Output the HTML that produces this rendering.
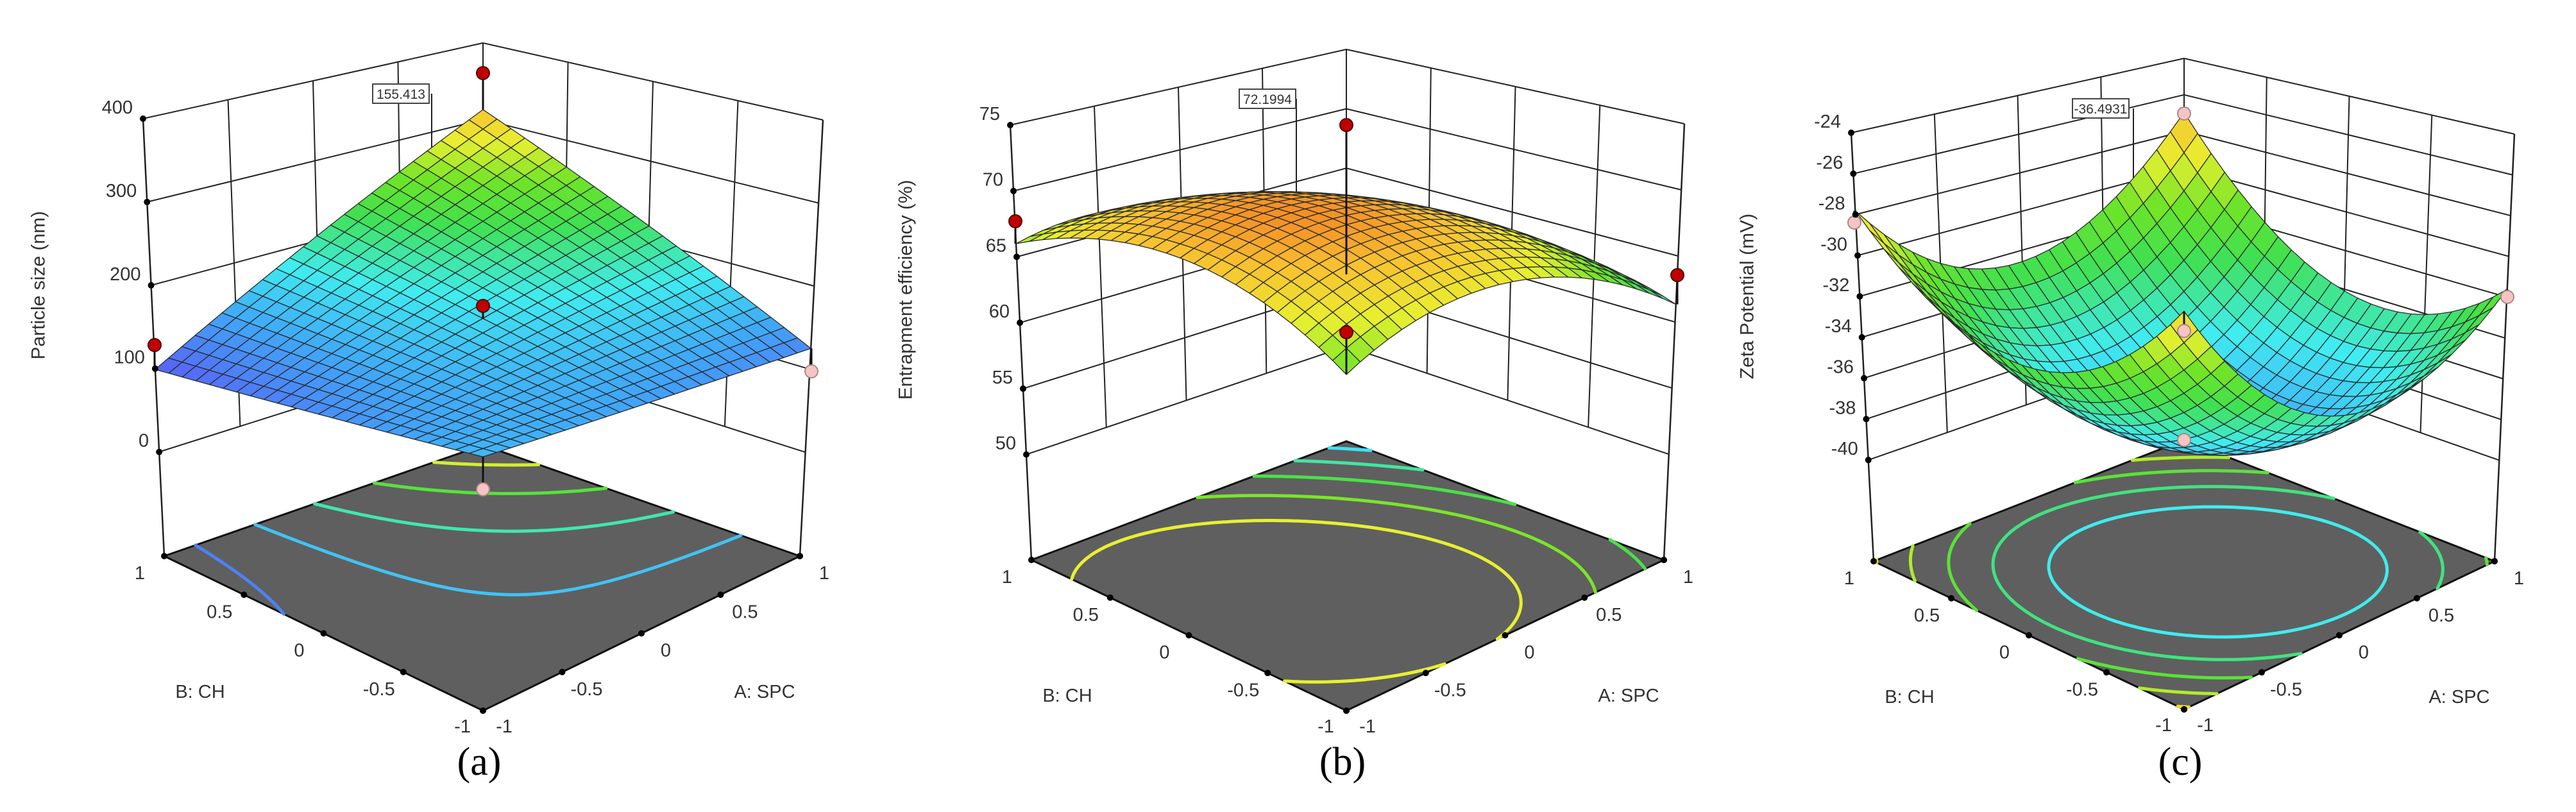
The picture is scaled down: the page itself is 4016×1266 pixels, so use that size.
<!DOCTYPE html>
<html><head><meta charset="utf-8"><style>html,body{margin:0;padding:0;background:#fff}svg{display:block}</style></head>
<body>
<svg id="s" xmlns="http://www.w3.org/2000/svg" width="4016" height="1266" viewBox="0 0 4016 1266" font-family="'Liberation Sans',sans-serif">
<rect width="4016" height="1266" fill="#fff"/>
</svg>
<script>
const S=document.getElementById('s');const NS='http://www.w3.org/2000/svg';
function el(t,a,txt){const e=document.createElementNS(NS,t);for(const k in a)e.setAttribute(k,a[k]);if(txt!==undefined)e.textContent=txt;S.appendChild(e);return e;}
const cm=[[0,[90,90,245]],[0.2,[64,168,248]],[0.35,[64,236,240]],[0.52,[64,224,80]],[0.64,[110,228,40]],[0.76,[232,240,48]],[0.88,[248,192,48]],[1,[240,112,32]]];
function col(t){t=Math.max(0,Math.min(1,t));for(let i=1;i<cm.length;i++){if(t<=cm[i][0]){const a=cm[i-1],b=cm[i];const f=(t-a[0])/(b[0]-a[0]);const c=a[1].map((v,k)=>Math.round(v+(b[1][k]-v)*f));return `rgb(${c[0]},${c[1]},${c[2]})`;}}return 'rgb(240,112,32)';}
function quad(c0,a1,b1,a2,b2,ab){return (A,B)=>c0+a1*A+b1*B+a2*A*A+b2*B*B+ab*A*B;}
const P=[
{fl:{F:[753,1108],R:[1247,867],L:[256,867],B:[753,694]},tp:{F:[753,366],R:[1283,187],L:[223,185],B:[753,67]},
 zmin:-125,zmax:400,ticks:[0,100,200,300,400],f:quad(173,46,33,0,0,61),cr:[95,345],lev:[120,160,200,240,280],
 title:'Particle size (nm)',letter:'(a)',lab:['155.413',625,146,673,560],
 dots:[[753,114,'r',1,1],[753,477,'r',0,0],[241,538,'r',-1,1],[1265,579,'p',1,-1],[753,763,'p',-1,-1]]},
{fl:{F:[2099,1108],R:[2594,873],L:[1608,873],B:[2099,688]},tp:{F:[2099,356],R:[2626,193],L:[1575,195],B:[2099,77]},
 zmin:42,zmax:75,ticks:[50,55,60,65,70,75],f:quad(70,-3.4,-1.07,-4.25,-3.65,-1.57),cr:[54,71.5],ccr:[50,73],lev:[57.5,60,62.5,65,67.5],
 title:'Entrapment efficiency (%)',letter:'(b)',lab:['72.1994',1976,154,2021,430],
 dots:[[2099,195,'r',1,1],[1583,345,'r',-1,1],[2615,429,'r',1,-1],[2099,518,'r',-1,-1]]},
{fl:{F:[3405,1106],R:[3889,875],L:[2921,875],B:[3405,686]},tp:{F:[3405,356],R:[3920,209],L:[2886,207],B:[3405,91]},
 zmin:-44.95,zmax:-24,ticks:[-40,-38,-36,-34,-32,-30,-28,-26,-24],f:quad(-38.5,-0.79,1.11,5.2,4.8,1.21),cr:[-42,-25],lev:[-36,-34,-32,-30,-28],
 title:'Zeta Potential (mV)',letter:'(c)',lab:['-36.4931',3275,169,3326,617],
 dots:[[3405,177,'p',1,1],[2891,347,'p',-1,1],[3909,463,'p',1,-1],[3405,516,'p',-1,-1],[3405,686,'p',0,0]]}
];
function bil(c,u,v,k){return c.F[k]*(1-u)*(1-v)+c.R[k]*u*(1-v)+c.L[k]*(1-u)*v+c.B[k]*u*v;}
for(const p of P){
 const pr=(A,B,z)=>{const u=(A+1)/2,v=(B+1)/2,zf=(z-p.zmin)/(p.zmax-p.zmin);
  const fx=bil(p.fl,u,v,0),fy=bil(p.fl,u,v,1),tx=bil(p.tp,u,v,0),ty=bil(p.tp,u,v,1);return [fx+(tx-fx)*zf,fy+(ty-fy)*zf];};
 const ln=(a,b,w,c)=>el('line',{x1:a[0].toFixed(1),y1:a[1].toFixed(1),x2:b[0].toFixed(1),y2:b[1].toFixed(1),stroke:c||'#222','stroke-width':w||2});
 const z0=p.ticks[0];
 for(const t of p.ticks){ln(pr(-1,1,t),pr(1,1,t));ln(pr(1,1,t),pr(1,-1,t));}
 for(const s of [-0.5,0,0.5]){ln(pr(s,1,z0),pr(s,1,p.zmax));ln(pr(1,s,z0),pr(1,s,p.zmax));}
 ln(pr(1,1,z0),pr(1,1,p.zmax));
 ln(pr(-1,1,p.zmin),pr(-1,1,p.zmax),2.5);ln(pr(1,-1,p.zmin),pr(1,-1,p.zmax),2.5);
 const fl=p.fl;el('polygon',{points:[fl.L,fl.F,fl.R,fl.B].map(q=>q.join(',')).join(' '),fill:'#5f5f5f',stroke:'#111','stroke-width':3});
 const ccr=p.ccr||p.cr;
 const M=80,g=[];for(let i=0;i<=M;i++){g[i]=[];for(let j=0;j<=M;j++)g[i][j]=p.f(-1+2*i/M,-1+2*j/M);}
 for(const L of p.lev){let d='';const c=col((L-ccr[0])/(ccr[1]-ccr[0]));
  for(let i=0;i<M;i++)for(let j=0;j<M;j++){const cs=[[i,j],[i+1,j],[i+1,j+1],[i,j+1]];const pts=[];
   for(let k=0;k<4;k++){const a=cs[k],b=cs[(k+1)%4];const va=g[a[0]][a[1]]-L,vb=g[b[0]][b[1]]-L;
    if((va<0)!==(vb<0)){const t=va/(va-vb);const ii=a[0]+(b[0]-a[0])*t,jj=a[1]+(b[1]-a[1])*t;pts.push(pr(-1+2*ii/M,-1+2*jj/M,p.zmin));}}
   for(let k=0;k+1<pts.length;k+=2)d+=`M${pts[k][0].toFixed(1)},${pts[k][1].toFixed(1)}L${pts[k+1][0].toFixed(1)},${pts[k+1][1].toFixed(1)}`;}
  el('path',{d:d,stroke:c,'stroke-width':5,fill:'none','stroke-linecap':'round'});}
 for(const s of [-1,-0.5,0,0.5,1]){for(const q of [pr(-1,s,p.zmin),pr(s,-1,p.zmin)])el('circle',{cx:q[0],cy:q[1],r:5,fill:'#000'});}
 el('circle',{cx:fl.R[0],cy:fl.R[1],r:5,fill:'#000'});
 ln([p.lab[3],p.lab[2]],[p.lab[3],p.lab[4]],2);
 const N=24,cells=[];
 for(let i=0;i<N;i++)for(let j=0;j<N;j++){const A0=-1+2*i/N,A1=-1+2*(i+1)/N,B0=-1+2*j/N,B1=-1+2*(j+1)/N;
  const vs=[[A0,B0],[A1,B0],[A1,B1],[A0,B1]].map(q=>[q[0],q[1],p.f(q[0],q[1])]);
  const av=vs.reduce((s,q)=>s+q[2],0)/4;cells.push({d:i+j,pts:vs.map(q=>pr(q[0],q[1],q[2])),v:av});}
 cells.sort((a,b)=>b.d-a.d);
 let gs='';for(const c of cells)gs+=`<polygon points="${c.pts.map(q=>q[0].toFixed(1)+','+q[1].toFixed(1)).join(' ')}" fill="${col((c.v-p.cr[0])/(p.cr[1]-p.cr[0]))}"/>`;
 const gg=el('g',{stroke:'#2a2a2a','stroke-width':1.3,'stroke-linejoin':'round'});gg.innerHTML=gs;
 for(const d of p.dots){const sp=pr(d[3],d[4],p.f(d[3],d[4]));ln([d[0],d[1]],[d[0],sp[1]],3,'#111');
  el('circle',{cx:d[0],cy:d[1],r:10,fill:d[2]=='r'?'#c00000':'#f6c4c4',stroke:d[2]=='r'?'#500':'#a88','stroke-width':2});}
 for(const t of p.ticks){const q=pr(-1,1,t);el('circle',{cx:q[0],cy:q[1],r:5,fill:'#000'});
  el('text',{x:q[0]-16,y:q[1]-8,'font-size':29,'text-anchor':'end',fill:'#333'},String(t));}
 for(const s of [1,0.5,0,-0.5]){const q=pr(-1,s,p.zmin);el('text',{x:q[0]-38,y:q[1]+36,'font-size':29,'text-anchor':'middle',fill:'#333'},String(s));
  const r=pr(s,-1,p.zmin);el('text',{x:r[0]+38,y:r[1]+36,'font-size':29,'text-anchor':'middle',fill:'#333'},String(s));}
 el('text',{x:fl.F[0]-32,y:fl.F[1]+34,'font-size':29,'text-anchor':'middle',fill:'#333'},'-1');
 el('text',{x:fl.F[0]+33,y:fl.F[1]+34,'font-size':29,'text-anchor':'middle',fill:'#333'},'-1');
 el('text',{x:fl.L[0]+56,y:fl.L[1]+221,'font-size':29,'text-anchor':'middle',fill:'#333'},'B: CH');
 el('text',{x:fl.R[0]-55,y:fl.R[1]+221,'font-size':29,'text-anchor':'middle',fill:'#333'},'A: SPC');
 const lx=pr(-1,1,(p.ticks[0]+p.zmax)/2);const tx=lx[0]-166,ty=(pr(-1,1,p.ticks[0])[1]+pr(-1,1,p.zmax)[1])/2;
 el('text',{x:tx,y:ty,'font-size':30,'text-anchor':'middle',fill:'#333',transform:`rotate(-90 ${tx} ${ty})`},p.title);
 el('text',{x:fl.F[0]-6,y:1208,'font-size':62,'text-anchor':'middle','font-family':"'Liberation Serif',serif",fill:'#000'},p.letter);
 el('rect',{x:p.lab[1]-44,y:p.lab[2]-15,width:88,height:30,fill:'#fff',stroke:'#444','stroke-width':2});
 el('text',{x:p.lab[1],y:p.lab[2]+8,'font-size':21,'text-anchor':'middle',fill:'#333'},p.lab[0]);
}
</script>
</body></html>
